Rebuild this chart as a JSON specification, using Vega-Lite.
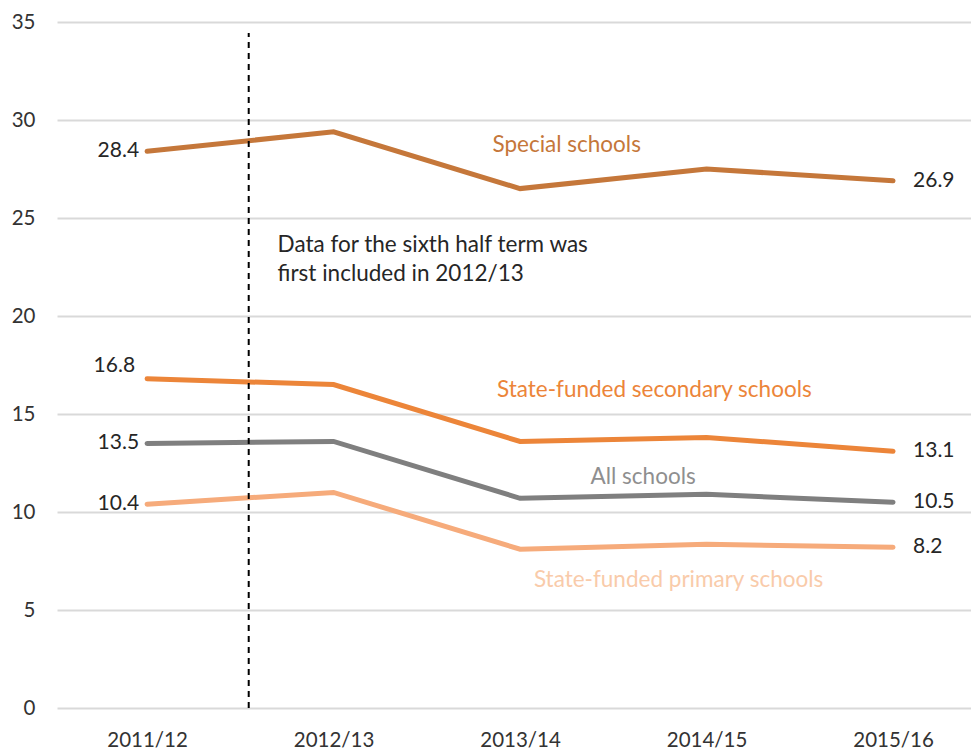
{
  "$schema": "https://vega.github.io/schema/vega-lite/v6.json",
  "width": 914,
  "height": 686,
  "autosize": "none",
  "padding": {"left": 57, "top": 22, "right": 0, "bottom": 43},
  "background": "white",
  "config": {
    "view": {"stroke": null},
    "font": "Lato",
    "text": {"font": "Lato", "fontSize": 21}
  },
  "datasets": {
    "rates": [
      {"start": 2011, "series": "Special schools", "value": 28.4},
      {"start": 2012, "series": "Special schools", "value": 29.4},
      {"start": 2013, "series": "Special schools", "value": 26.5},
      {"start": 2014, "series": "Special schools", "value": 27.5},
      {"start": 2015, "series": "Special schools", "value": 26.9},
      {"start": 2011, "series": "State-funded secondary schools", "value": 16.8},
      {"start": 2012, "series": "State-funded secondary schools", "value": 16.5},
      {"start": 2013, "series": "State-funded secondary schools", "value": 13.6},
      {"start": 2014, "series": "State-funded secondary schools", "value": 13.8},
      {"start": 2015, "series": "State-funded secondary schools", "value": 13.1},
      {"start": 2011, "series": "All schools", "value": 13.5},
      {"start": 2012, "series": "All schools", "value": 13.6},
      {"start": 2013, "series": "All schools", "value": 10.7},
      {"start": 2014, "series": "All schools", "value": 10.9},
      {"start": 2015, "series": "All schools", "value": 10.5},
      {"start": 2011, "series": "State-funded primary schools", "value": 10.4},
      {"start": 2012, "series": "State-funded primary schools", "value": 11.0},
      {"start": 2013, "series": "State-funded primary schools", "value": 8.1},
      {"start": 2014, "series": "State-funded primary schools", "value": 8.35},
      {"start": 2015, "series": "State-funded primary schools", "value": 8.2}
    ],
    "names": [
      {"series": "Special schools", "x": 2013.25, "y": 28.72},
      {"series": "State-funded secondary schools", "x": 2013.72, "y": 16.22},
      {"series": "All schools", "x": 2013.66, "y": 11.79},
      {"series": "State-funded primary schools", "x": 2013.85, "y": 6.53}
    ],
    "note": [
      {"text": "Data for the sixth half term was", "x": 2011.7, "y": 23.62},
      {"text": "first included in 2012/13", "x": 2011.7, "y": 22.14}
    ],
    "rule": [
      {"x": 2011.545, "y": 0, "y2": 34.44}
    ]
  },
  "layer": [
    {
      "data": {"name": "rates"},
      "mark": {"type": "line", "strokeWidth": 5, "strokeCap": "round"},
      "encoding": {
        "x": {
          "field": "start", "type": "quantitative",
          "scale": {"domain": [2010.517, 2015.418], "nice": false, "zero": false},
          "axis": {
            "values": [2011, 2012, 2013, 2014, 2015],
            "labelExpr": "datum.value + '/' + substring(toString(datum.value + 1), 2)",
            "title": null, "grid": false, "domain": false, "ticks": false,
            "labelFont": "Lato", "labelFontSize": 20.5, "labelColor": "#333333",
            "labelPadding": 22, "labelFlush": false
          }
        },
        "y": {
          "field": "value", "type": "quantitative",
          "scale": {"domain": [0, 35], "nice": false},
          "axis": {
            "values": [0, 5, 10, 15, 20, 25, 30, 35],
            "title": null, "domain": false, "ticks": false,
            "grid": true, "gridColor": "#D9D9D9", "gridWidth": 2,
            "labelFont": "Lato", "labelFontSize": 20.5, "labelColor": "#333333",
            "labelPadding": 22
          }
        },
        "color": {
          "field": "series", "type": "nominal", "legend": null,
          "scale": {
            "domain": ["Special schools", "State-funded secondary schools", "All schools", "State-funded primary schools"],
            "range": ["#C5773A", "#EC8539", "#7F7F7F", "#F6AB7B"]
          }
        }
      }
    },
    {
      "data": {"name": "rule"},
      "mark": {"type": "rule", "color": "#000000", "strokeWidth": 2, "strokeDash": [6, 5]},
      "encoding": {
        "x": {"field": "x", "type": "quantitative"},
        "y": {"field": "y", "type": "quantitative"},
        "y2": {"field": "y2"}
      }
    },
    {
      "data": {"name": "rates"},
      "transform": [{"filter": "datum.start == 2011 && datum.series != 'State-funded secondary schools'"}],
      "mark": {"type": "text", "align": "right", "baseline": "middle", "dx": -8, "color": "#262626"},
      "encoding": {
        "x": {"field": "start", "type": "quantitative"},
        "y": {"field": "value", "type": "quantitative"},
        "text": {"field": "value", "type": "quantitative", "format": ".1f"}
      }
    },
    {
      "data": {"name": "rates"},
      "transform": [{"filter": "datum.start == 2011 && datum.series == 'State-funded secondary schools'"}],
      "mark": {"type": "text", "align": "right", "baseline": "middle", "dx": -12, "dy": -13, "color": "#262626"},
      "encoding": {
        "x": {"field": "start", "type": "quantitative"},
        "y": {"field": "value", "type": "quantitative"},
        "text": {"field": "value", "type": "quantitative", "format": ".1f"}
      }
    },
    {
      "data": {"name": "rates"},
      "transform": [{"filter": "datum.start == 2015"}],
      "mark": {"type": "text", "align": "left", "baseline": "middle", "dx": 20, "color": "#262626"},
      "encoding": {
        "x": {"field": "start", "type": "quantitative"},
        "y": {"field": "value", "type": "quantitative"},
        "text": {"field": "value", "type": "quantitative", "format": ".1f"}
      }
    },
    {
      "data": {"name": "names"},
      "mark": {"type": "text", "align": "center", "baseline": "middle", "fontSize": 22.5},
      "encoding": {
        "x": {"field": "x", "type": "quantitative"},
        "y": {"field": "y", "type": "quantitative"},
        "text": {"field": "series"},
        "color": {
          "field": "series", "type": "nominal", "legend": null,
          "scale": {
            "domain": ["Special schools", "State-funded secondary schools", "All schools", "State-funded primary schools"],
            "range": ["#C5773A", "#EC8539", "#8F8F8F", "#F9CBAA"]
          }
        }
      }
    },
    {
      "data": {"name": "note"},
      "mark": {"type": "text", "align": "left", "baseline": "middle", "color": "#262626", "fontSize": 22.5},
      "encoding": {
        "x": {"field": "x", "type": "quantitative"},
        "y": {"field": "y", "type": "quantitative"},
        "text": {"field": "text"}
      }
    }
  ],
  "resolve": {"scale": {"color": "independent"}}
}
